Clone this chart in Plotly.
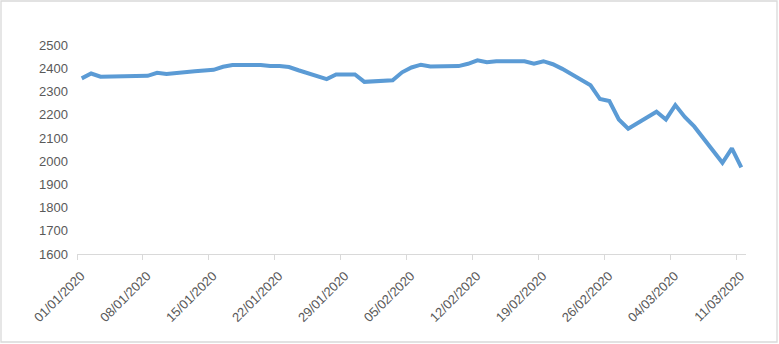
import plotly.graph_objects as go
import pandas as pd

dates = [
    "2020-01-01", "2020-01-02", "2020-01-03", "2020-01-06", "2020-01-07", "2020-01-08",
    "2020-01-09", "2020-01-10", "2020-01-13", "2020-01-14", "2020-01-15", "2020-01-16",
    "2020-01-17", "2020-01-20", "2020-01-21", "2020-01-22", "2020-01-23", "2020-01-24",
    "2020-01-27", "2020-01-28", "2020-01-29", "2020-01-30", "2020-01-31", "2020-02-03",
    "2020-02-04", "2020-02-05", "2020-02-06", "2020-02-07", "2020-02-10", "2020-02-11",
    "2020-02-12", "2020-02-13", "2020-02-14", "2020-02-17", "2020-02-18", "2020-02-19",
    "2020-02-20", "2020-02-21", "2020-02-24", "2020-02-25", "2020-02-26", "2020-02-27",
    "2020-02-28", "2020-03-02", "2020-03-03", "2020-03-04", "2020-03-05", "2020-03-06",
    "2020-03-09", "2020-03-10", "2020-03-11",
]
values = [
    2357, 2378, 2364, 2364, 2364, 2368,
    2381, 2376, 2388, 2391, 2394, 2407,
    2415, 2415, 2410, 2410, 2406, 2392,
    2354, 2374, 2374, 2374, 2342, 2349,
    2383, 2404, 2416, 2408, 2410, 2420,
    2435, 2427, 2431, 2431, 2420, 2431,
    2418, 2398, 2327, 2268, 2259, 2180,
    2140, 2213, 2180, 2242, 2191, 2150,
    1993, 2055, 1973,
]
x_tick_dates = ["2020-01-01", "2020-01-08", "2020-01-15", "2020-01-22", "2020-01-29",
                "2020-02-05", "2020-02-12", "2020-02-19", "2020-02-26", "2020-03-04",
                "2020-03-11"]
x_tick_labels = ["01/01/2020", "08/01/2020", "15/01/2020", "22/01/2020", "29/01/2020",
                 "05/02/2020", "12/02/2020", "19/02/2020", "26/02/2020", "04/03/2020",
                 "11/03/2020"]
y_ticks = [1600, 1700, 1800, 1900, 2000, 2100, 2200, 2300, 2400, 2500]

# points sit in the middle of each day (Excel date axis, between tick marks)
x_pos = pd.to_datetime(dates) + pd.Timedelta(hours=12)

fig = go.Figure()
fig.add_trace(go.Scatter(
    x=x_pos, y=values, mode="lines",
    line=dict(color="#5B9BD5", width=4),
    hoverinfo="x+y",
))

W, H = 779, 344
L, R, T, B = 77, 33, 22, 90
pw, ph = W - L - R, H - T - B

fig.update_layout(
    width=W, height=H,
    margin=dict(l=L, r=R, t=T, b=B),
    paper_bgcolor="white", plot_bgcolor="white",
    showlegend=False,
    font=dict(family="Liberation Sans, Arial, sans-serif", size=13, color="#595959"),
    xaxis=dict(
        type="date",
        range=["2020-01-01", "2020-03-12"],
        tickvals=x_tick_dates, ticktext=x_tick_labels,
        tickangle=-45,
        showgrid=False, zeroline=False,
        showline=True, linecolor="#D9D9D9", linewidth=1.3,
        ticks="outside", ticklen=5, tickcolor="#D9D9D9", tickwidth=1.3,
        ticklabelstandoff=3, ticklabelshift=4,
        tickfont=dict(size=13, color="#595959"),
    ),
    yaxis=dict(
        range=[1600, 2600],
        tickvals=y_ticks,
        showgrid=False, zeroline=False, showline=False,
        ticks="", ticklabelstandoff=8,
        tickfont=dict(size=13, color="#595959"),
    ),
    shapes=[dict(
        type="rect", xref="paper", yref="paper",
        x0=(1 - L) / pw, x1=(777 - L) / pw,
        y0=1 - (1 - T) / ph, y1=1 - (342 - T) / ph,
        line=dict(color="#D9D9D9", width=1.3), fillcolor="rgba(0,0,0,0)",
        layer="below",
    )],
)

fig.write_html("out.html")
